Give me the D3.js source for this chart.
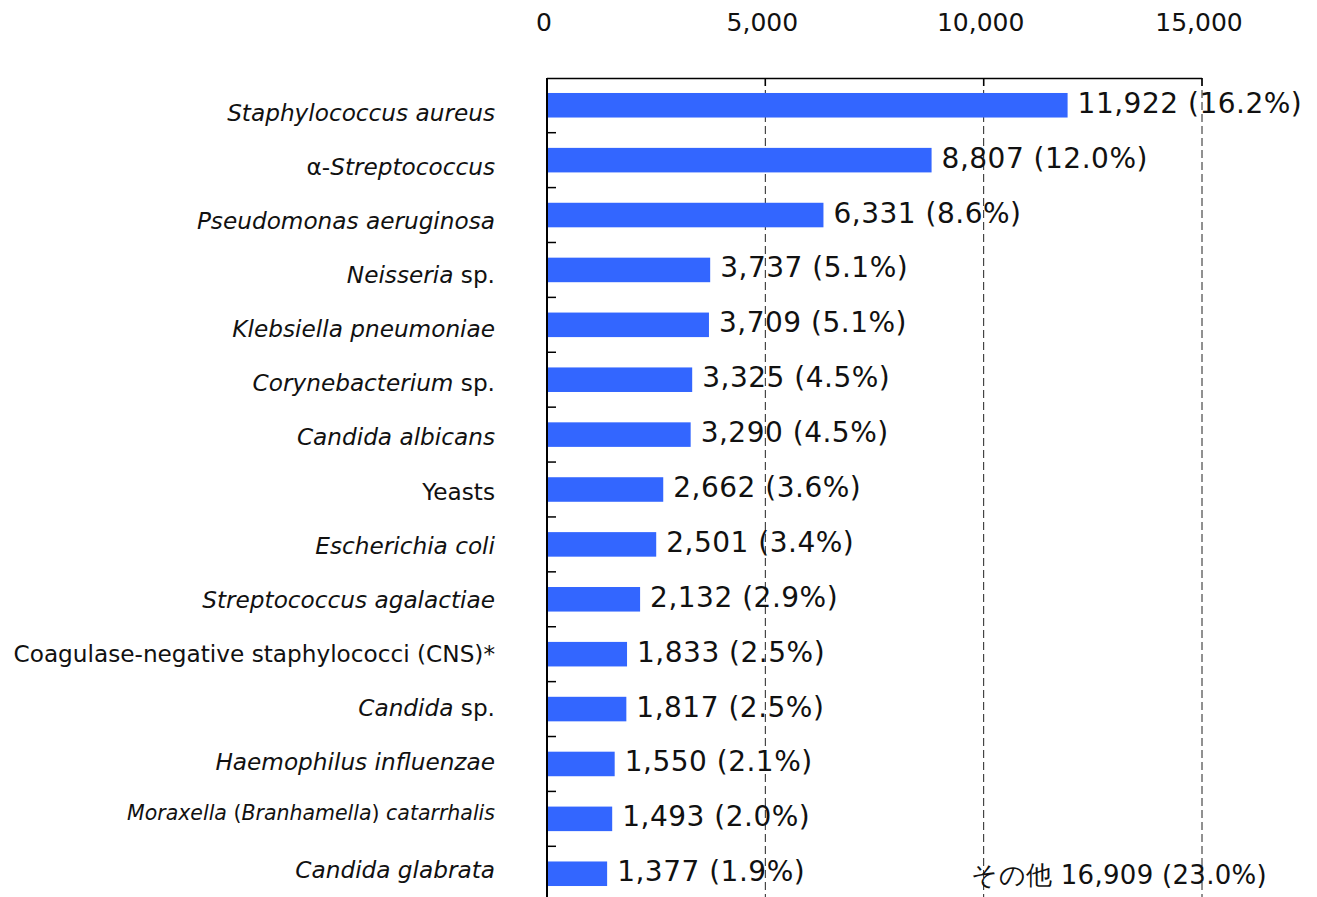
<!DOCTYPE html>
<html>
<head>
<meta charset="utf-8">
<script src="https://cdn.jsdelivr.net/npm/d3@7"></script>
<style>
  body { margin: 0; background: #fff; }
  text { font-family: "DejaVu Sans", Verdana, sans-serif; fill: #111; }
</style>
</head>
<body>
<div id="chart"></div>
<script>
// category labels: each one is a list of [text, italic] pieces
var LABELS = [
  [["Staphylococcus aureus", true]],
  [["\u03b1-", false], ["Streptococcus", true]],
  [["Pseudomonas aeruginosa", true]],
  [["Neisseria", true], [" sp.", false]],
  [["Klebsiella pneumoniae", true]],
  [["Corynebacterium", true], [" sp.", false]],
  [["Candida albicans", true]],
  [["Yeasts", false]],
  [["Escherichia coli", true]],
  [["Streptococcus agalactiae", true]],
  [["Coagulase-negative staphylococci (CNS)*", false]],
  [["Candida", true], [" sp.", false]],
  [["Haemophilus influenzae", true]],
  [["Moraxella", true], [" (", false], ["Branhamella", true], [") ", false], ["catarrhalis", true]],
  [["Candida glabrata", true]]
];
var COUNTS = [11922, 8807, 6331, 3737, 3709, 3325, 3290, 2662, 2501, 2132, 1833, 1817, 1550, 1493, 1377];
var PCTS = ["16.2", "12.0", "8.6", "5.1", "5.1", "4.5", "4.5", "3.6", "3.4", "2.9", "2.5", "2.5", "2.1", "2.0", "1.9"];
var X_TICKS = [0, 5000, 10000, 15000];
var OTHER_LABEL = "その他";
var OTHER_COUNT = 16909;
var OTHER_PCT = "23.0";

var W = 1317, H = 897;
var margin = {top: 78, left: 547, right: 115, bottom: -4};
var width = W - margin.left - margin.right,
    height = H - margin.top - margin.bottom;

var fmt = d3.format(",");

var svg = d3.select("#chart").append("svg")
    .attr("width", W)
    .attr("height", H);

var g = svg.append("g")
    .attr("transform", "translate(" + margin.left + "," + margin.top + ")");

var x = d3.scaleLinear().domain([0, 15000]).range([0, width]);
var idx = d3.range(COUNTS.length);
var y = d3.scaleBand().domain(idx).range([0, height]).paddingInner(0.553).paddingOuter(0.273);
// the category names sit on a slightly tighter pitch than the bars
var yLab = d3.scaleBand().domain(idx).range([0, height - 12]).paddingInner(0.553).paddingOuter(0.273);

// dashed grid lines
g.selectAll(".grid").data(X_TICKS.slice(1)).enter().append("line")
    .attr("x1", x).attr("x2", x)
    .attr("y1", 0).attr("y2", height)
    .attr("stroke", "#222").attr("stroke-width", 1)
    .attr("stroke-dasharray", "8,4");

// top axis frame + ticks
g.append("line").attr("x1", 0).attr("x2", x(15000)).attr("y1", 0.5).attr("y2", 0.5)
    .attr("stroke", "#000").attr("stroke-width", 1.5);
g.selectAll(".xt").data(X_TICKS.slice(1)).enter().append("line")
    .attr("x1", x).attr("x2", x).attr("y1", 0).attr("y2", 8)
    .attr("stroke", "#000").attr("stroke-width", 1.5);

g.selectAll(".xl").data(X_TICKS).enter().append("text")
    .attr("x", function(d) { return x(d) - 3; })
    .attr("y", -47)
    .attr("text-anchor", "middle")
    .style("font-size", "25px")
    .text(function(d) { return fmt(d); });

// bars
g.selectAll(".bar").data(idx).enter().append("rect")
    .attr("x", 0)
    .attr("y", function(i) { return y(i); })
    .attr("width", function(i) { return x(COUNTS[i]); })
    .attr("height", y.bandwidth())
    .attr("fill", "#3366ff");

// left axis + ticks between categories
g.append("line").attr("x1", 0).attr("x2", 0).attr("y1", 0).attr("y2", height)
    .attr("stroke", "#000").attr("stroke-width", 2);
g.selectAll(".yt").data(idx.slice(1)).enter().append("line")
    .attr("x1", 0).attr("x2", 9)
    .attr("y1", function(i) { return y(i) - y.step() * y.paddingInner() / 2; })
    .attr("y2", function(i) { return y(i) - y.step() * y.paddingInner() / 2; })
    .attr("stroke", "#000").attr("stroke-width", 1.5);

// value labels
g.selectAll(".val").data(idx).enter().append("text")
    .attr("x", function(i) { return x(COUNTS[i]) + 10; })
    .attr("y", function(i) { return y(i) + y.bandwidth() / 2 + 7.5; })
    .style("font-size", "28px")
    .style("letter-spacing", "0.5px")
    .text(function(i) { return fmt(COUNTS[i]) + " (" + PCTS[i] + "%)"; });

// category labels
var lab = g.selectAll(".lab").data(idx).enter().append("text")
    .attr("x", -52)
    .attr("y", function(i) { return yLab(i) + yLab.bandwidth() / 2 + (i === 13 ? 12 : 16); })
    .attr("text-anchor", "end")
    .style("font-size", function(i) { return i === 13 ? "20.5px" : "23.2px"; });
lab.each(function(i) {
  var t = d3.select(this);
  LABELS[i].forEach(function(p) {
    t.append("tspan").style("font-style", p[1] ? "italic" : "normal").text(p[0]);
  });
});

// "other" annotation, right-aligned near the right edge of the plot
g.append("text")
    .attr("x", x(16490))
    .attr("y", y(14) + y.bandwidth() / 2 + 10)
    .attr("text-anchor", "end")
    .style("font-size", "26px")
    .style("letter-spacing", "0.3px")
    .text(OTHER_LABEL + " " + fmt(OTHER_COUNT) + " (" + OTHER_PCT + "%)");
</script>
</body>
</html>
